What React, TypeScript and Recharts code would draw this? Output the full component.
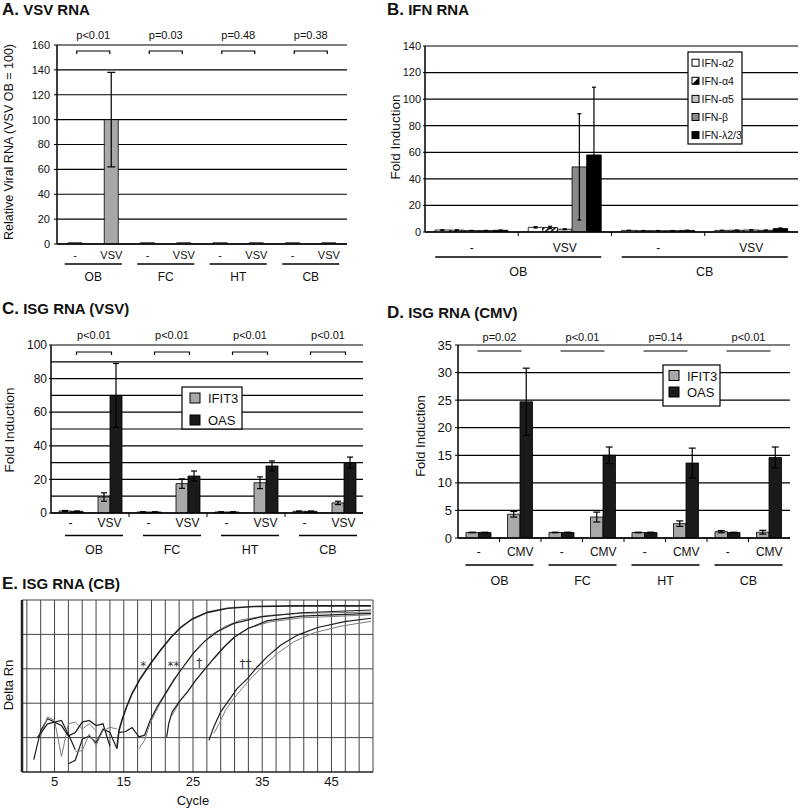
import React from "react";
import {
  BarChart,
  Bar,
  XAxis,
  YAxis,
  CartesianGrid,
  ErrorBar,
  LineChart,
  Line,
  ReferenceDot,
  ReferenceLine,
} from "recharts";

const FONT = "'Liberation Sans', Arial, Helvetica, sans-serif";
const INK = "#111";

// ---- A. VSV RNA ----
const tissues = ["OB", "FC", "HT", "CB"];
const vsvTreat = ["-", "VSV"];
const vsvRna = [1, 100, 1, 1, 1, 1, 1, 1];
const vsvRnaErr = [0, 38, 0, 0, 0, 0, 0, 0];
const pVsvRna = ["p<0.01", "p=0.03", "p=0.48", "p=0.38"];
const ticksVsvRna = [0, 20, 40, 60, 80, 100, 120, 140, 160];

// ---- B. IFN RNA ----
const ifnTissues = ["OB", "CB"];
const ifnA2 = [1.5, 3.5, 1.2, 1.2];
const ifnA2Err = [0.2, 0.5, 0.1, 0.1];
const ifnA4 = [1.4, 3.4, 1.0, 1.3];
const ifnA4Err = [0.2, 0.9, 0.1, 0.2];
const ifnA5 = [1.1, 2.1, 1.0, 1.5];
const ifnA5Err = [0.1, 0.3, 0.1, 0.2];
const ifnB = [1.1, 49, 1.0, 1.3];
const ifnBErr = [0.1, 40, 0.1, 0.2];
const ifnL = [1.3, 58, 1.2, 2.6];
const ifnLErr = [0.2, 51, 0.1, 0.5];
const ticksIfn = [0, 20, 40, 60, 80, 100, 120, 140];

// ---- C. ISG RNA (VSV) ----
const ifit3Vsv = [1.2, 9.5, 0.6, 17.5, 0.6, 18, 1.0, 6];
const ifit3VsvErr = [0.3, 2.5, 0.1, 2.8, 0.1, 3.5, 0.2, 1];
const oasVsv = [1.0, 70, 0.6, 22, 0.6, 28, 1.0, 30];
const oasVsvErr = [0.2, 19, 0.1, 3, 0.1, 3, 0.2, 3.3];
const pVsv = ["p<0.01", "p<0.01", "p<0.01", "p<0.01"];
const ticksVsv = [0, 20, 40, 60, 80, 100];
const gridVsv = [0, 10, 20, 30, 40, 50, 60, 70, 80, 90, 100];

// ---- D. ISG RNA (CMV) ----
const cmvTreat = ["-", "CMV"];
const ifit3Cmv = [1, 4.3, 1, 3.8, 1, 2.6, 1.15, 1.05];
const ifit3CmvErr = [0.05, 0.5, 0.05, 0.9, 0.05, 0.5, 0.2, 0.35];
const oasCmv = [1, 24.7, 1, 15, 1, 13.6, 1, 14.6];
const oasCmvErr = [0.05, 6.1, 0.05, 1.5, 0.05, 2.7, 0.05, 1.9];
const pCmv = ["p=0.02", "p<0.01", "p=0.14", "p<0.01"];
const ticksCmv = [0, 5, 10, 15, 20, 25, 30, 35];

// ---- E. ISG RNA (CB), amplification plot ----
type Pt = [number, number];
const ampNoise1: Pt[] = [[2, 0.36], [3, 1.2], [4, 1.55], [5, 1.45], [6, 1.5], [7, 1.1], [8, 0.65]];
const ampNoise2: Pt[] = [[3, 1.05], [4, 1.6], [5, 1.5], [6, 0.45], [7, 1.4], [8, 1.45], [9, 1.25], [10, 1.4], [11, 1.2]];
const ampNoise3: Pt[] = [[2.5, 1.0], [4, 1.4], [5, 1.45], [6, 1.35], [7, 1.05], [8, 1.15], [9, 1.45], [10, 1.5], [11, 1.35], [12, 1.4], [13, 0.75]];
const ampNoise4: Pt[] = [[7, 0.24], [8, 0.34], [9, 0.95], [10, 1.05], [11, 0.85], [12, 1.25], [13, 1.15], [14, 0.68]];
const ampNoise5: Pt[] = [[8, 0.6], [9, 0.62], [10, 1.1], [11, 0.78], [12, 1.2], [13, 1.3], [14, 1.25]];
const ampStar: Pt[] = [[14, 0.68], [14.3, 1.2], [14.8, 1.55], [15.4, 1.89], [16.2, 2.28], [17.4, 2.72], [18.9, 3.16], [20.3, 3.54], [21.8, 3.91], [23.2, 4.2], [24.9, 4.45], [27.1, 4.64], [30, 4.76], [33.8, 4.81], [40, 4.83], [50.7, 4.83]];
const ampStar2Dark: Pt[] = [[14.3, 1.15], [15.2, 1.17], [16.2, 1.29], [17.2, 1.02], [18, 1.07], [18.8, 1.5], [19.8, 1.89], [21, 2.28], [22.2, 2.67], [23.6, 3.06], [25.1, 3.47], [26.8, 3.82], [28.5, 4.08], [30.9, 4.32], [34.8, 4.51], [40.6, 4.63], [50.7, 4.71]];
const ampStar2Gray: Pt[] = [[17.2, 0.68], [18, 0.92], [18.8, 1.41], [19.6, 1.75], [20.8, 2.18], [22, 2.57], [23.2, 2.96], [24.7, 3.35], [26.1, 3.69], [27.6, 3.98], [29.5, 4.22], [31.9, 4.42], [35.8, 4.55], [40.6, 4.61], [50.7, 4.65]];
const ampDagDark: Pt[] = [[21.2, 1.02], [21.5, 1.41], [22, 1.75], [23, 2.04], [24.2, 2.33], [25.4, 2.67], [26.6, 2.96], [28, 3.3], [29.5, 3.64], [30.9, 3.91], [32.9, 4.17], [35.8, 4.4], [40.6, 4.53], [50.7, 4.61]];
const ampDagGray: Pt[] = [[22, 1.65], [23.2, 2.09], [24.4, 2.38], [25.6, 2.72], [26.8, 3.01], [28.3, 3.35], [29.7, 3.66], [31.2, 3.95], [33.1, 4.18], [36, 4.36], [40.6, 4.48], [50.7, 4.57]];
const ampDag2Dark: Pt[] = [[27.3, 0.92], [28, 1.31], [29, 1.75], [30.2, 2.09], [31.4, 2.43], [32.9, 2.72], [34.3, 3.06], [35.8, 3.37], [37.7, 3.69], [40.1, 3.98], [43, 4.2], [46.9, 4.37], [50.7, 4.47]];
const ampDag2Gray: Pt[] = [[28, 1.12], [28.8, 1.41], [29.7, 1.8], [30.9, 2.14], [32.1, 2.43], [33.6, 2.77], [35.3, 3.11], [37.2, 3.45], [39.6, 3.79], [42.5, 4.05], [46.4, 4.24], [50.7, 4.38]];
const ampNotes = [
  { c: 17.8, v: 3.08, t: "*" },
  { c: 22.2, v: 3.08, t: "**" },
  { c: 25.9, v: 3.16, t: "†" },
  { c: 32.6, v: 3.13, t: "††" },
];
const cycleTicks = [5, 15, 25, 35, 45];
const cycleGrid = [1, 3, 5, 7, 9, 11, 13, 15, 17, 19, 21, 23, 25, 27, 29, 31, 33, 35, 37, 39, 41, 43, 45, 47, 49, 51];
const rnGrid = [1, 2, 3, 4, 5];

function rows(groups: string[], treat: string[], series: Record<string, number[]>) {
  return groups.flatMap((g, gi) =>
    treat.map((t, ti) => {
      const i = gi * treat.length + ti;
      const r: any = { id: `${g} ${t}`, label: t, group: g };
      for (const k in series) r[k] = series[k][i];
      return r;
    })
  );
}

const dataA = rows(tissues, vsvTreat, { v: vsvRna, e: vsvRnaErr });
const dataB = rows(ifnTissues, vsvTreat, {
  a2: ifnA2, a2e: ifnA2Err, a4: ifnA4, a4e: ifnA4Err, a5: ifnA5, a5e: ifnA5Err,
  b: ifnB, be: ifnBErr, l: ifnL, le: ifnLErr,
});
const dataC = rows(tissues, vsvTreat, { i: ifit3Vsv, ie: ifit3VsvErr, o: oasVsv, oe: oasVsvErr });
const dataD = rows(tissues, cmvTreat, { i: ifit3Cmv, ie: ifit3CmvErr, o: oasCmv, oe: oasCmvErr });

const pts = (a: Pt[]) => a.map(([c, v]) => ({ c, v }));

type Deco = {
  labels: string[];
  groups: string[];
  per: number;
  subY: number;
  subSize: number;
  lineY: number;
  groupY: number;
  groupSize: number;
  half: number;
  dx: number;
  marks: "none" | "cat" | "group";
  p?: string[];
  pY?: number;
  brY?: number;
  brHalf?: number;
  brEnd?: number;
};

function makeTick(d: Deco, band: number, plotH: number) {
  return (props: any) => {
    const x = Number(props.x);
    const y = Number(props.y);
    const i: number = props.index ?? props.payload?.index ?? 0;
    const n = d.labels.length;
    const parts: React.ReactNode[] = [];
    parts.push(
      <text key="s" x={x} y={y + d.subY} textAnchor="middle" fontSize={d.subSize} fill={INK} fontFamily={FONT}>
        {d.labels[i]}
      </text>
    );
    const showMark =
      (d.marks === "cat" && i < n - 1) ||
      (d.marks === "group" && i % d.per === d.per - 1 && i < n - 1);
    if (showMark) {
      parts.push(<line key="m" x1={x + band / 2} x2={x + band / 2} y1={y} y2={y + 4} stroke="#000" />);
    }
    if (i % d.per === 0) {
      const gi = i / d.per;
      const gx = x + ((d.per - 1) * band) / 2 + d.dx;
      parts.push(
        <line key="u" x1={gx - d.half} x2={gx + d.half} y1={y + d.lineY} y2={y + d.lineY} stroke="#000" strokeWidth={1.3} />
      );
      parts.push(
        <text key="g" x={gx} y={y + d.groupY} textAnchor="middle" fontSize={d.groupSize} fill={INK} fontFamily={FONT}>
          {d.groups[gi]}
        </text>
      );
      if (d.p) {
        const top = y - plotH;
        const by = top + (d.brY ?? 0);
        const h = d.brHalf ?? 16;
        const e = d.brEnd ?? 0;
        parts.push(
          <text key="p" x={gx} y={top + (d.pY ?? -6)} textAnchor="middle" fontSize={11} fill={INK} fontFamily={FONT}>
            {d.p[gi]}
          </text>
        );
        parts.push(
          <path key="b" d={`M${gx - h},${by + e} V${by} H${gx + h} V${by + e}`} fill="none" stroke="#000" strokeWidth={1.2} />
        );
      }
    }
    return <g>{parts}</g>;
  };
}

type Series = { key: string; err: string; fill: string };
type PanelProps = {
  left: number;
  top: number;
  width: number;
  height: number;
  margin: { top: number; right: number; bottom: number; left: number };
  yWidth: number;
  xHeight: number;
  data: any[];
  series: Series[];
  barSize: number;
  cap: number;
  yMax: number;
  yTicks: number[];
  grid?: number[];
  tickFont: number;
  tickSize: number;
  tickMargin: number;
  deco: Deco;
  defs?: React.ReactNode;
};

function BarPanel(p: PanelProps) {
  const plotW = p.width - p.margin.left - p.margin.right - p.yWidth;
  const plotH = p.height - p.margin.top - p.margin.bottom - p.xHeight;
  const band = plotW / p.data.length;
  const tick = makeTick(p.deco, band, plotH);
  return (
    <div style={{ position: "absolute", left: p.left, top: p.top }}>
      <BarChart width={p.width} height={p.height} data={p.data} margin={p.margin} barGap={0} barSize={p.barSize}>
        {p.defs}
        <CartesianGrid vertical={false} horizontalValues={p.grid ?? p.yTicks} stroke="#000" strokeWidth={1.2} />
        <XAxis
          dataKey="id"
          interval={0}
          height={p.xHeight}
          tickLine={false}
          tickSize={0}
          tickMargin={0}
          axisLine={{ stroke: "#000", strokeWidth: 1.5 }}
          tick={tick}
        />
        <YAxis
          type="number"
          domain={[0, p.yMax]}
          ticks={p.yTicks}
          interval={0}
          width={p.yWidth}
          tickSize={p.tickSize}
          tickMargin={p.tickMargin}
          tickLine={{ stroke: "#000" }}
          axisLine={{ stroke: "#000", strokeWidth: 1.5 }}
          tick={{ fontSize: p.tickFont, fill: INK, fontFamily: FONT }}
          allowDataOverflow
        />
        {p.series.map((s) => (
          <Bar key={s.key} dataKey={s.key} fill={s.fill} stroke="#000" strokeWidth={0.8} isAnimationActive={false}>
            <ErrorBar dataKey={s.err} width={p.cap} stroke="#000" strokeWidth={1.2} direction="y" />
          </Bar>
        ))}
      </BarChart>
    </div>
  );
}

const curves: { data: Pt[]; dark: boolean; w?: number }[] = [
  { data: ampNoise1, dark: true },
  { data: ampNoise2, dark: false },
  { data: ampNoise3, dark: true },
  { data: ampNoise4, dark: true },
  { data: ampNoise5, dark: false },
  { data: ampDag2Gray, dark: false },
  { data: ampDag2Dark, dark: true },
  { data: ampDagGray, dark: false },
  { data: ampDagDark, dark: true },
  { data: ampStar2Gray, dark: false },
  { data: ampStar2Dark, dark: true },
  { data: ampStar, dark: true, w: 1.6 },
];

function Title({ x, y, letter, text }: { x: number; y: number; letter: string; text: string }) {
  return (
    <text x={x} y={y} fontWeight="bold" fill={INK} fontFamily={FONT}>
      <tspan fontSize={17}>{letter}</tspan>
      <tspan fontSize={15}>{" " + text}</tspan>
    </text>
  );
}

function VLabel({ x, y, size, children }: { x: number; y: number; size: number; children: string }) {
  return (
    <text
      x={x}
      y={y}
      transform={`rotate(-90 ${x} ${y})`}
      textAnchor="middle"
      dominantBaseline="central"
      fontSize={size}
      fill={INK}
      fontFamily={FONT}
    >
      {children}
    </text>
  );
}

const legendIfn = [
  { name: "IFN-α2", fill: "#ffffff" },
  { name: "IFN-α4", fill: "half" },
  { name: "IFN-α5", fill: "#c4c4c4" },
  { name: "IFN-β", fill: "#8a8a8a" },
  { name: "IFN-λ2/3", fill: "#000000" },
];

export default function App() {
  return (
    <div style={{ position: "absolute", left: 0, top: 0, width: 800, height: 808, background: "#fff", overflow: "hidden" }}>
      <BarPanel
        left={0}
        top={0}
        width={360}
        height={292}
        margin={{ top: 45, right: 13, bottom: 0, left: 0 }}
        yWidth={57}
        xHeight={48}
        data={dataA}
        series={[{ key: "v", err: "e", fill: "#a8a8a8" }]}
        barSize={14}
        cap={4}
        yMax={160}
        yTicks={ticksVsvRna}
        tickFont={11}
        tickSize={3}
        tickMargin={4}
        deco={{
          labels: dataA.map((r) => r.label), groups: tissues, per: 2,
          subY: 15, subSize: 11, lineY: 20, groupY: 37, groupSize: 12, half: 28.5, dx: 0, marks: "none",
          p: pVsvRna, pY: -6, brY: 6, brHalf: 16.5, brEnd: 3,
        }}
      />
      <BarPanel
        left={380}
        top={0}
        width={420}
        height={292}
        margin={{ top: 46, right: 2, bottom: 0, left: 0 }}
        yWidth={45}
        xHeight={60}
        data={dataB}
        series={[
          { key: "a2", err: "a2e", fill: "#ffffff" },
          { key: "a4", err: "a4e", fill: "url(#hatchA4)" },
          { key: "a5", err: "a5e", fill: "#c4c4c4" },
          { key: "b", err: "be", fill: "#8a8a8a" },
          { key: "l", err: "le", fill: "#000000" },
        ]}
        barSize={14.6}
        cap={2}
        yMax={140}
        yTicks={ticksIfn}
        tickFont={11}
        tickSize={2}
        tickMargin={2}
        deco={{
          labels: dataB.map((r) => r.label), groups: ifnTissues, per: 2,
          subY: 20, subSize: 12, lineY: 25, groupY: 43.5, groupSize: 12.5, half: 83, dx: 0, marks: "cat",
        }}
        defs={
          <defs>
            <pattern id="hatchA4" width={4} height={4} patternUnits="userSpaceOnUse" patternTransform="rotate(45)">
              <rect width={4} height={4} fill="#fff" />
              <rect width={1.6} height={4} fill="#000" />
            </pattern>
          </defs>
        }
      />
      <BarPanel
        left={0}
        top={290}
        width={380}
        height={270}
        margin={{ top: 55, right: 17, bottom: 0, left: 0 }}
        yWidth={51}
        xHeight={47}
        data={dataC}
        series={[
          { key: "i", err: "ie", fill: "#a8a8a8" },
          { key: "o", err: "oe", fill: "#1a1a1a" },
        ]}
        barSize={12}
        cap={3}
        yMax={100}
        yTicks={ticksVsv}
        grid={gridVsv}
        tickFont={12}
        tickSize={2}
        tickMargin={2}
        deco={{
          labels: dataC.map((r) => r.label), groups: tissues, per: 2,
          subY: 14, subSize: 12, lineY: 22.5, groupY: 41, groupSize: 12.5, half: 29, dx: 4, marks: "group",
          p: pVsv, pY: -6, brY: 7, brHalf: 17.5, brEnd: 3,
        }}
      />
      <BarPanel
        left={380}
        top={290}
        width={420}
        height={305}
        margin={{ top: 55, right: 10, bottom: 0, left: 0 }}
        yWidth={78}
        xHeight={57}
        data={dataD}
        series={[
          { key: "i", err: "ie", fill: "#a8a8a8" },
          { key: "o", err: "oe", fill: "#1a1a1a" },
        ]}
        barSize={12.5}
        cap={3.5}
        yMax={35}
        yTicks={ticksCmv}
        tickFont={13}
        tickSize={3}
        tickMargin={3}
        deco={{
          labels: dataD.map((r) => r.label), groups: tissues, per: 2,
          subY: 18, subSize: 12, lineY: 27, groupY: 46.5, groupSize: 12.5, half: 34, dx: 0, marks: "cat",
          p: pCmv, pY: -4, brY: 6, brHalf: 22, brEnd: 0,
        }}
      />
      <div style={{ position: "absolute", left: 0, top: 592 }}>
        <LineChart width={380} height={216} margin={{ top: 8, right: 7, bottom: 0, left: 0 }}>
          <CartesianGrid horizontal={false} verticalValues={cycleGrid} stroke="#444" strokeWidth={1} />
          {rnGrid.map((v) => (
            <ReferenceLine key={v} y={v} stroke="#444" strokeWidth={1} ifOverflow="extendDomain" />
          ))}
          <XAxis
            type="number"
            dataKey="c"
            domain={[0.3, 51]}
            allowDataOverflow
            ticks={cycleTicks}
            interval={0}
            height={36}
            tickLine={false}
            tickSize={0}
            tickMargin={5}
            axisLine={{ stroke: "#222", strokeWidth: 1.5 }}
            tick={{ fontSize: 13, fill: INK, fontFamily: FONT }}
          />
          <YAxis
            type="number"
            domain={[0, 5]}
            allowDataOverflow
            width={22}
            tick={false}
            tickLine={false}
            axisLine={{ stroke: "#222", strokeWidth: 2.5 }}
          />
          {curves.map((cv, k) => (
            <Line
              key={k}
              data={pts(cv.data)}
              dataKey="v"
              type="linear"
              dot={false}
              stroke={cv.dark ? "#1e1e1e" : "#7c7c7c"}
              strokeWidth={cv.w ?? (cv.dark ? 1.2 : 1)}
              isAnimationActive={false}
            />
          ))}
          {ampNotes.map((n) => (
            <ReferenceDot
              key={n.t}
              x={n.c}
              y={n.v}
              r={0}
              shape={(sp: any) => (
                <text x={sp.cx} y={sp.cy} textAnchor="middle" dominantBaseline="central" fontSize={12} fill="#333" fontFamily="'DejaVu Sans', sans-serif">
                  {n.t}
                </text>
              )}
            />
          ))}
        </LineChart>
      </div>

      <svg width={800} height={808} style={{ position: "absolute", left: 0, top: 0, pointerEvents: "none" }}>
        <Title x={2} y={14.5} letter="A." text="VSV RNA" />
        <Title x={387} y={14.5} letter="B." text="IFN RNA" />
        <Title x={2} y={313.5} letter="C." text="ISG RNA (VSV)" />
        <Title x={387} y={318} letter="D." text="ISG RNA (CMV)" />
        <Title x={2} y={589} letter="E." text="ISG RNA (CB)" />

        <VLabel x={9} y={142} size={12.5}>Relative Viral RNA (VSV OB = 100)</VLabel>
        <VLabel x={395} y={137} size={13.5}>Fold Induction</VLabel>
        <VLabel x={9} y={430} size={13.5}>Fold Induction</VLabel>
        <VLabel x={420} y={436} size={13}>Fold Induction</VLabel>
        <VLabel x={8} y={685} size={13}>Delta Rn</VLabel>
        <text x={193} y={804.5} textAnchor="middle" fontSize={13} fill={INK} fontFamily={FONT}>
          Cycle
        </text>

        {/* legend B */}
        <rect x={688} y={52} width={54} height={92} fill="#fff" stroke="#000" strokeWidth={1.2} />
        {legendIfn.map((l, k) => {
          const cy = 62.7 + k * 18.1;
          return (
            <g key={l.name}>
              <rect x={692} y={cy - 3.5} width={7} height={7} fill={l.fill === "half" ? "#fff" : l.fill} stroke="#000" strokeWidth={1} />
              {l.fill === "half" && <polygon points={`${699},${cy - 3.5} ${699},${cy + 3.5} ${692},${cy + 3.5}`} fill="#000" />}
              <text x={701.5} y={cy + 3.8} fontSize={10.5} fill={INK} fontFamily={FONT}>
                {l.name}
              </text>
            </g>
          );
        })}

        {/* legend C */}
        <rect x={182} y={387} width={60} height={42} fill="#fff" stroke="#000" strokeWidth={1.2} />
        <rect x={190} y={393} width={10} height={10} fill="#a8a8a8" stroke="#000" />
        <text x={208} y={402.5} fontSize={13} fill={INK} fontFamily={FONT}>IFIT3</text>
        <rect x={190} y={415} width={10} height={10} fill="#1a1a1a" stroke="#000" />
        <text x={208} y={424.5} fontSize={13} fill={INK} fontFamily={FONT}>OAS</text>

        {/* legend D */}
        <rect x={663} y={365} width={57} height={41} fill="#fff" stroke="#000" strokeWidth={1.2} />
        <rect x={669} y={370.5} width={10} height={10} fill="#a8a8a8" stroke="#000" />
        <text x={687} y={380.5} fontSize={13} fill={INK} fontFamily={FONT}>IFIT3</text>
        <rect x={669} y={387} width={10} height={10} fill="#1a1a1a" stroke="#000" />
        <text x={687} y={396.5} fontSize={13} fill={INK} fontFamily={FONT}>OAS</text>
      </svg>
    </div>
  );
}
